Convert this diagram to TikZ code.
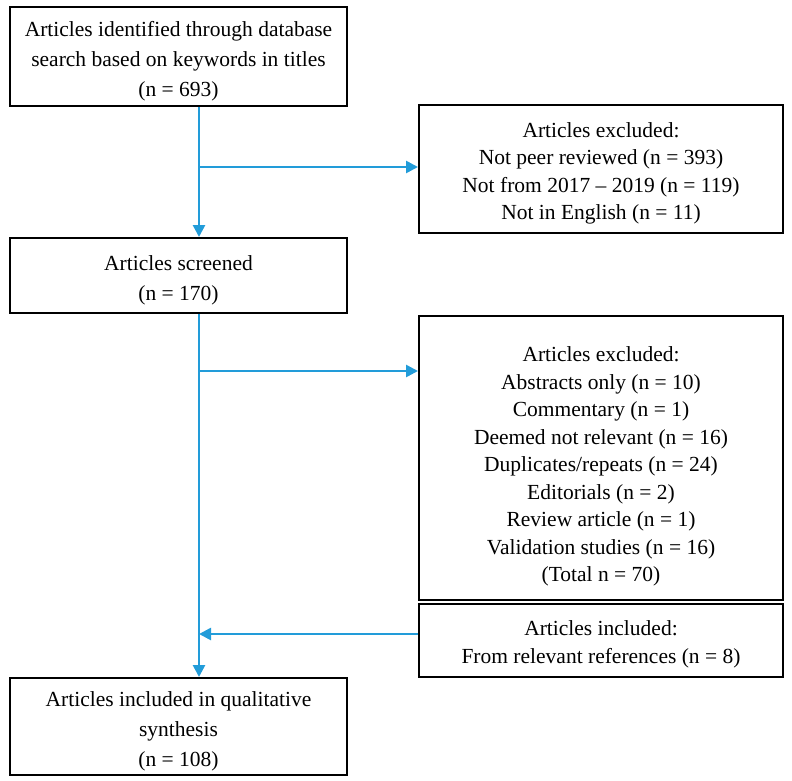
\documentclass[tikz,border=0pt]{standalone}
\usepackage{fontspec}
\setmainfont{Liberation Serif}
\usetikzlibrary{arrows.meta}
\definecolor{flowblue}{HTML}{229CD9}
\newcommand{\topstrut}[1]{\rule{0pt}{#1}}
\begin{document}
\begin{tikzpicture}[x=1pt,y=-1pt,
  box/.style={draw=black,line width=2pt,align=center,inner sep=0pt,font=\fontsize{21.5}{30}\selectfont},
  rbox/.style={box,font=\fontsize{21.5}{27.5}\selectfont},
  arr/.style={draw=flowblue,line width=2.6pt,-{Triangle[length=12pt,width=12pt]}}]
\useasboundingbox (0,0) rectangle (792,781);
\node[box,minimum width=337pt,minimum height=99pt] (b1) at (178.5,56.5)
  {\topstrut{25pt}Articles identified through database\\search based on keywords in titles\\(n = 693)};
\node[rbox,minimum width=364pt,minimum height=128pt] (b2) at (601,169)
  {\topstrut{24pt}Articles excluded:\\Not peer reviewed (n = 393)\\Not from 2017 -- 2019 (n = 119)\\Not in English (n = 11)};
\node[box,minimum width=337pt,minimum height=75pt] (b3) at (178.5,275.5)
  {\topstrut{25pt}Articles screened\\(n = 170)};
\node[rbox,minimum width=364pt,minimum height=284pt] (b4) at (601,458)
  {\topstrut{32pt}Articles excluded:\\Abstracts only (n = 10)\\Commentary (n = 1)\\Deemed not relevant (n = 16)\\Duplicates/repeats (n = 24)\\Editorials (n = 2)\\Review article (n = 1)\\Validation studies (n = 16)\\(Total n = 70)};
\node[rbox,minimum width=364pt,minimum height=73pt] (b5) at (601,640.5)
  {\topstrut{23pt}Articles included:\\From relevant references (n = 8)};
\node[box,minimum width=337pt,minimum height=97pt] (b6) at (178.5,726.5)
  {\topstrut{25pt}Articles included in qualitative\\synthesis\\(n = 108)};
\coordinate (j1) at (199,167);
\coordinate (j2) at (199,371);
\coordinate (j3) at (199,634);
\draw[arr] (b1.south -| j1) -- (b3.north -| j1);
\draw[arr] (j1) -- (j1 -| b2.west);
\draw[arr] (b3.south -| j2) -- (b6.north -| j2);
\draw[arr] (j2) -- (j2 -| b4.west);
\draw[arr] (j3 -| b5.west) -- (j3);
\end{tikzpicture}
\end{document}
